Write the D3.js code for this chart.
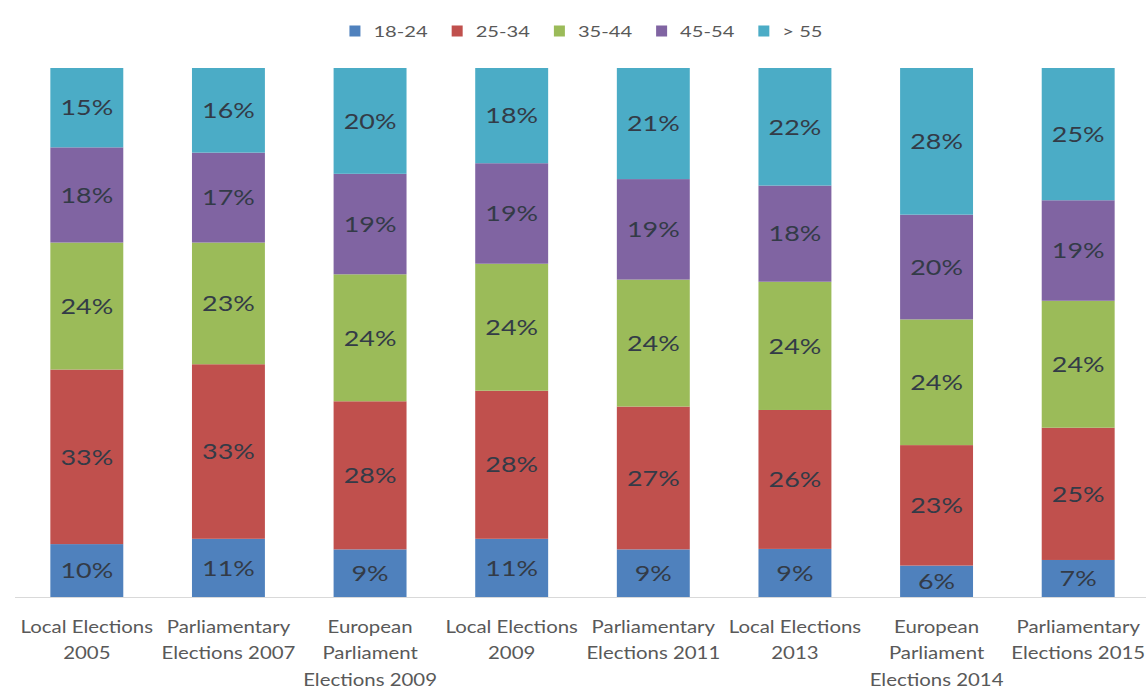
<!DOCTYPE html>
<html>
<head>
<meta charset="utf-8">
<script src="https://cdn.jsdelivr.net/npm/d3@7"></script>
<style>
  html, body { margin: 0; padding: 0; background: #fff; }
  svg { display: block; font-family: Lato, "Open Sans", sans-serif; }
</style>
</head>
<body>
<svg id="chart" width="1146" height="689"></svg>
<script>
// Election categories (x axis), one line per array entry
const categories = [
  ["Local Elections", "2005"],
  ["Parliamentary", "Elections 2007"],
  ["European", "Parliament", "Elections 2009"],
  ["Local Elections", "2009"],
  ["Parliamentary", "Elections 2011"],
  ["Local Elections", "2013"],
  ["European", "Parliament", "Elections 2014"],
  ["Parliamentary", "Elections 2015"]
];

const seriesNames = ["18-24", "25-34", "35-44", "45-54", "> 55"];

// Share of voters by age group, percent
const age18_24 = [10, 11, 9, 11, 9, 9, 6, 7];
const age25_34 = [33, 33, 28, 28, 27, 26, 23, 25];
const age35_44 = [24, 23, 24, 24, 24, 24, 24, 24];
const age45_54 = [18, 17, 19, 19, 19, 18, 20, 19];
const age55plus = [15, 16, 20, 18, 21, 22, 28, 25];

const seriesValues = [age18_24, age25_34, age35_44, age45_54, age55plus];
const colors = ["#4F81BD", "#C0504D", "#9BBB59", "#8064A2", "#4BACC6"];

// Horizontal widening applied to the text
const labelStretch = 1.25;
const axisStretch = 1.2;
const legendStretch = 1.3;

const rows = categories.map((c, i) => {
  const r = { key: i };
  seriesNames.forEach((s, j) => { r[s] = seriesValues[j][i]; });
  return r;
});

const svg = d3.select("#chart");

const x = d3.scaleBand()
  .domain(rows.map(r => r.key))
  .range([16, 1149])
  .paddingInner(0.485)
  .paddingOuter(0.2425);

const y = d3.scaleLinear().domain([0, 1]).range([597, 68]);

const stack = d3.stack().keys(seriesNames).offset(d3.stackOffsetExpand);
const layers = stack(rows);

const g = svg.append("g");

// Axis baseline
svg.append("line")
  .attr("x1", 15).attr("x2", 1146)
  .attr("y1", 597.5).attr("y2", 597.5)
  .attr("stroke", "#d9d9d9").attr("stroke-width", 1);

layers.forEach((layer, si) => {
  const lg = g.append("g");
  lg.selectAll("rect")
    .data(layer)
    .join("rect")
    .attr("x", d => x(d.data.key))
    .attr("width", x.bandwidth())
    .attr("y", d => y(d[1]))
    .attr("height", d => y(d[0]) - y(d[1]))
    .attr("fill", colors[si]);

  lg.selectAll("text")
    .data(layer)
    .join("text")
    .attr("transform", d =>
      `translate(${x(d.data.key) + x.bandwidth() / 2},${(y(d[0]) + y(d[1])) / 2}) scale(${labelStretch},1)`)
    .attr("dy", "0.36em")
    .attr("text-anchor", "middle")
    .attr("font-size", 21.5)
    .attr("fill", "#333b47")
    .text(d => d.data[seriesNames[si]] + "%");
});

// Category labels
const xAxis = svg.append("g");
rows.forEach((r, i) => {
  const cx = x(r.key) + x.bandwidth() / 2;
  const t = xAxis.append("text")
    .attr("transform", `translate(${cx},633) scale(${axisStretch},1)`)
    .attr("text-anchor", "middle")
    .attr("font-size", 17)
    .attr("fill", "#595959");
  categories[i].forEach((line, k) => {
    t.append("tspan")
      .attr("x", 0)
      .attr("dy", k === 0 ? 0 : 26.5)
      .text(line);
  });
});

// Legend
const legend = svg.append("g");
const legendItems = legend.selectAll("g")
  .data(seriesNames)
  .join("g");
legendItems.append("rect")
  .attr("width", 11).attr("height", 11)
  .attr("y", -5.5)
  .attr("fill", (d, i) => colors[i]);
legendItems.append("text")
  .attr("transform", `translate(24,0) scale(${legendStretch},1)`)
  .attr("dy", "0.36em")
  .attr("font-size", 15.5)
  .attr("fill", "#595959")
  .text(d => d);
let offset = 0;
legendItems.each(function() {
  const tw = d3.select(this).select("text").node().getBBox().width * legendStretch;
  d3.select(this).attr("transform", `translate(${offset},0)`);
  offset += 24 + tw + 24;
});
const totalW = offset - 24;
legend.attr("transform", `translate(${586 - totalW / 2},31)`);
</script>
</body>
</html>
